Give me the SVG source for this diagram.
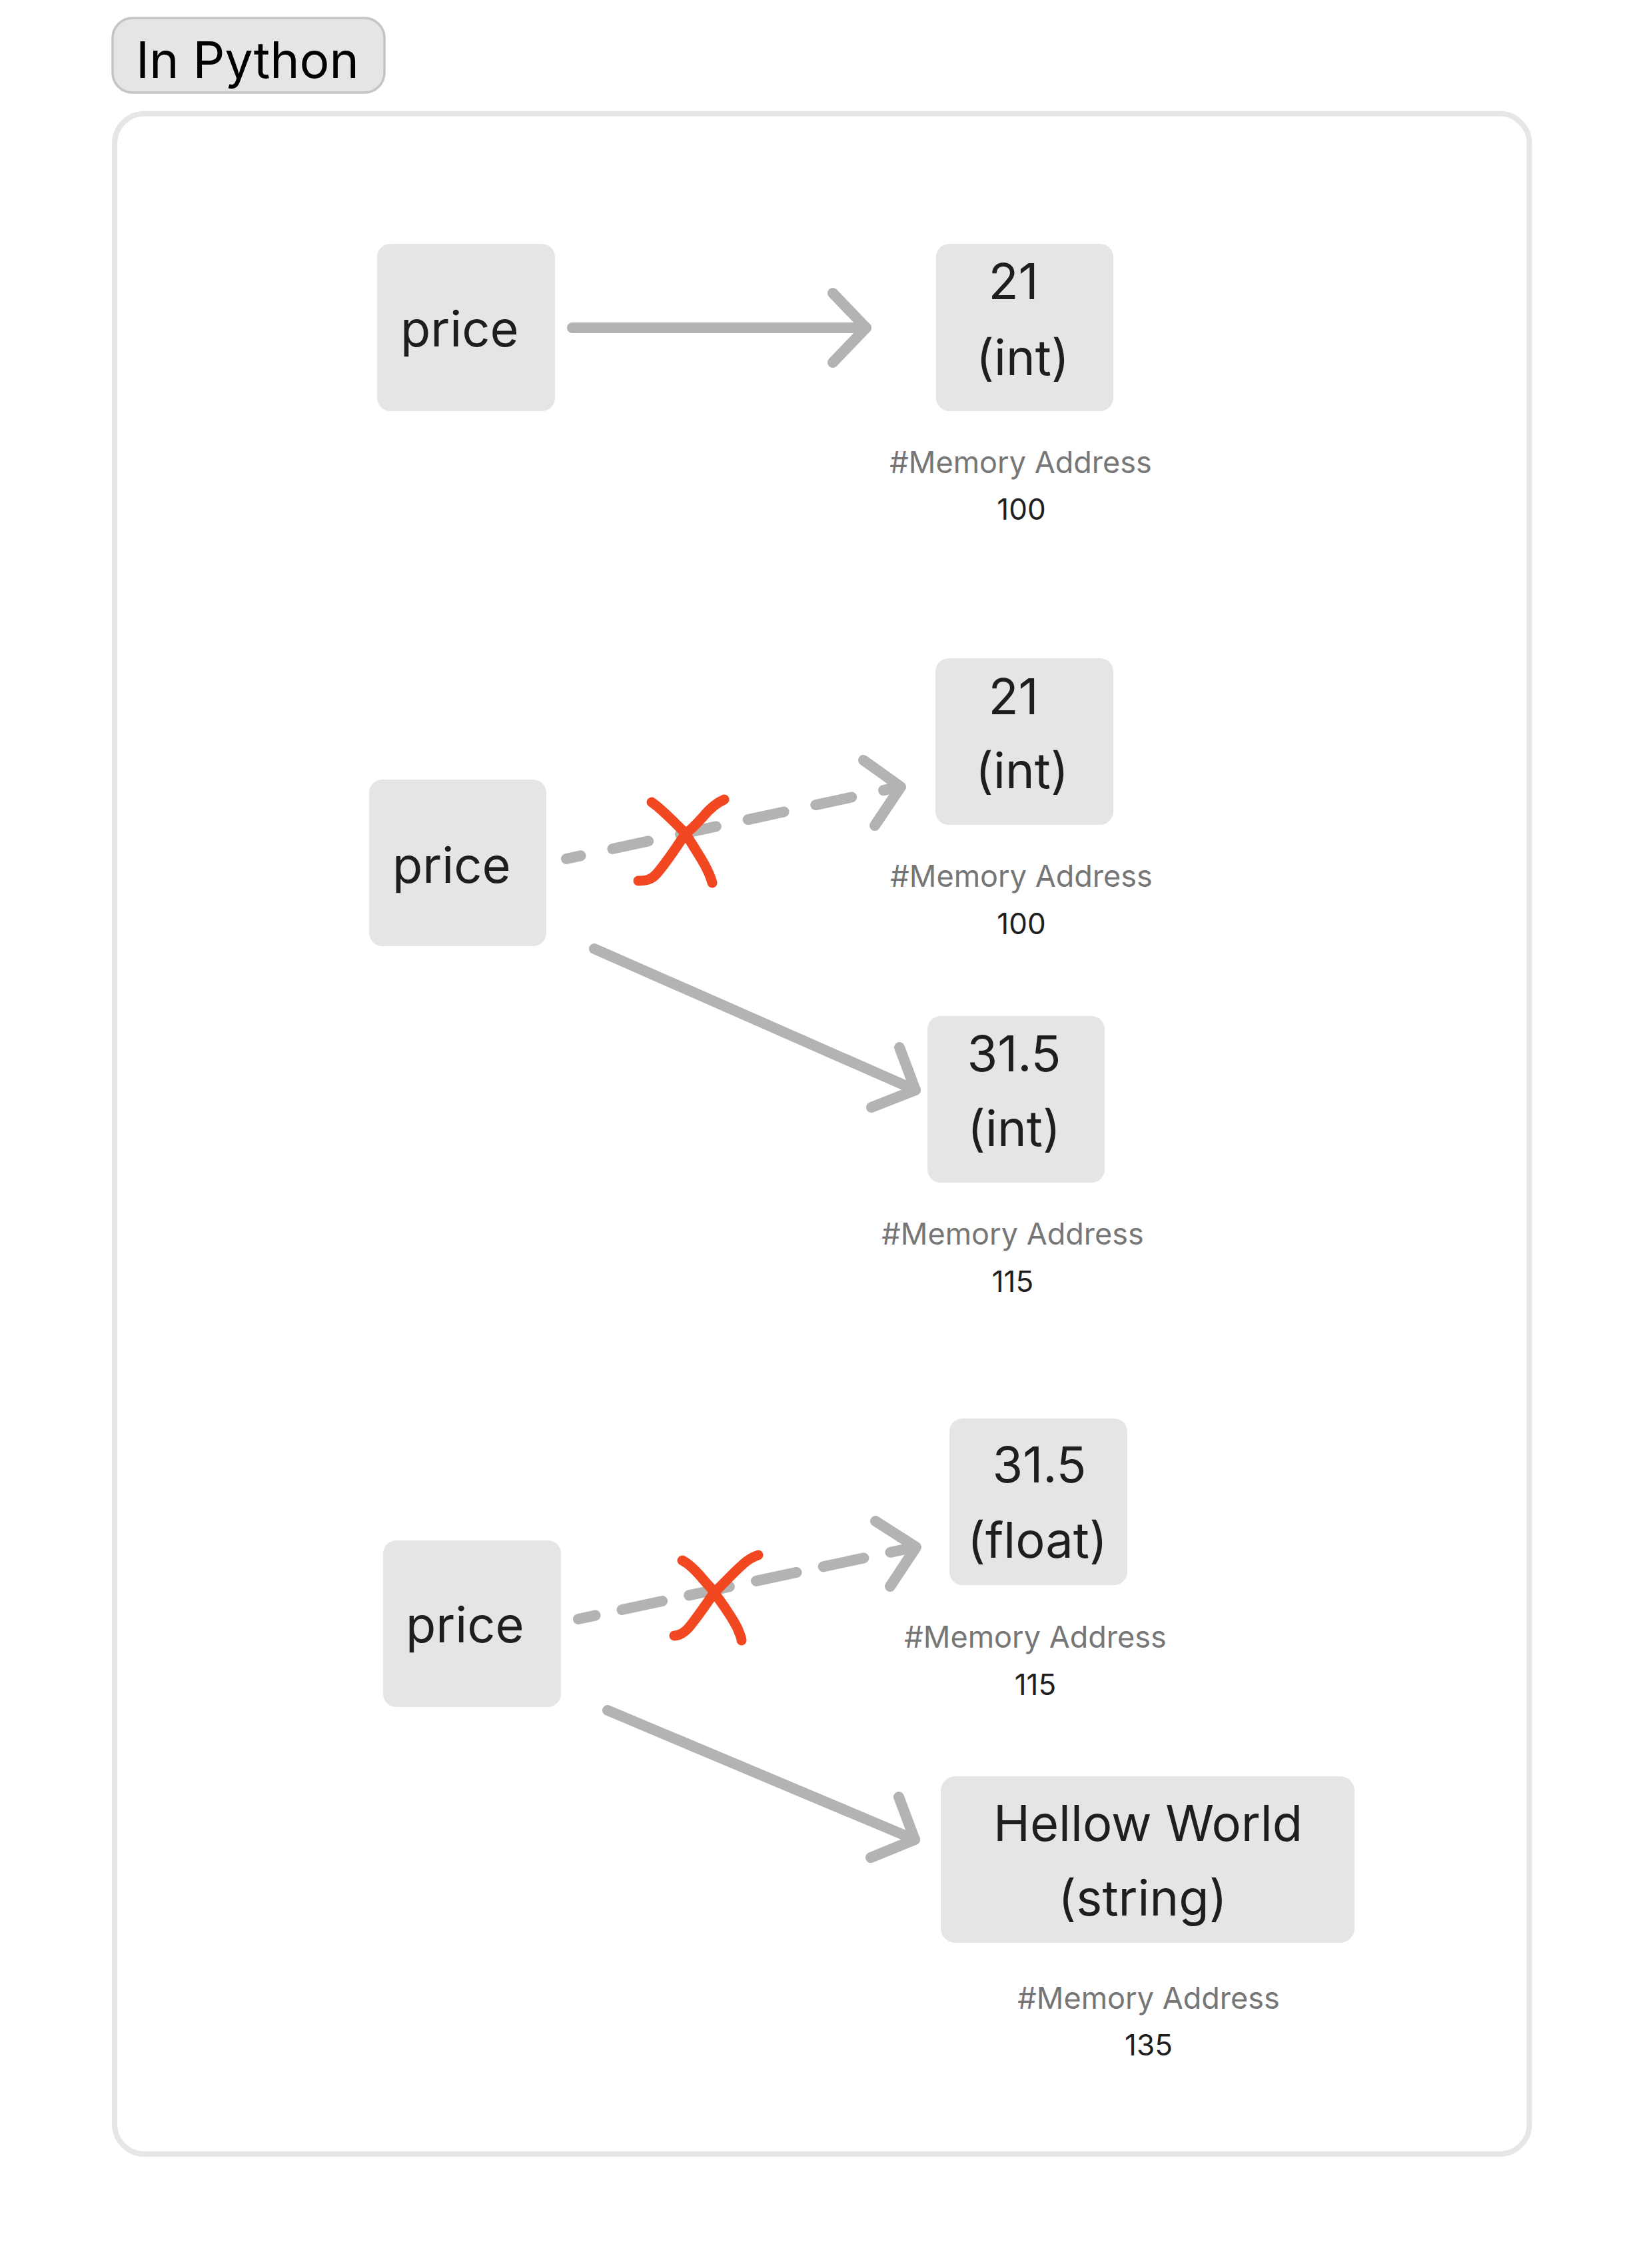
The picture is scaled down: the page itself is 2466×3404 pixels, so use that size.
<svg xmlns="http://www.w3.org/2000/svg" width="2466" height="3404" viewBox="0 0 2466 3404">
  <style>
    text { font-family: Inter, "Liberation Sans", sans-serif; }
    .box { fill: #e5e5e5; }
    .main { font-size: 74px; fill: #1e1e1e; }
    .mid { text-anchor: middle; }
    .addr { font-size: 45px; fill: #767676; text-anchor: middle; }
    .num { font-size: 44px; fill: #1e1e1e; text-anchor: middle; }
    .conn { fill: none; stroke: #b3b3b3; stroke-width: 16; stroke-linecap: round; stroke-linejoin: round; }
    .cross { fill: none; stroke: #f24822; stroke-width: 15; stroke-linecap: round; stroke-linejoin: round; }
  </style>
  <rect width="2466" height="3404" fill="#ffffff"/>

  <g id="title">
    <rect x="169" y="27" width="408" height="112" rx="30" fill="#e5e5e5" stroke="#c4c4c4" stroke-width="3.5"/>
    <text x="204" y="117" font-size="75" fill="#000000">In Python</text>
  </g>

  <g id="frame">
    <rect x="172" y="170.5" width="2123.5" height="3062.5" rx="45" fill="none" stroke="#e6e6e6" stroke-width="8"/>
  </g>

  <g id="price-1">
    <rect class="box" x="566" y="366" width="267" height="251" rx="20"/>
    <text class="main" x="601" y="520">price</text>
  </g>
  <g id="value-21-a">
    <rect class="box" x="1405" y="366" width="266" height="251" rx="20"/>
    <text class="main mid" x="1521" y="449">21</text>
    <text class="main mid" x="1535" y="563">(int)</text>
  </g>
  <g id="addr-100-a">
    <text class="addr" x="1532" y="710">#Memory Address</text>
    <text class="num" x="1533" y="780">100</text>
  </g>

  <g id="price-2">
    <rect class="box" x="554" y="1170" width="266" height="250" rx="20"/>
    <text class="main" x="589" y="1325">price</text>
  </g>
  <g id="value-21-b">
    <rect class="box" x="1404" y="988" width="267" height="250" rx="20"/>
    <text class="main mid" x="1521" y="1072">21</text>
    <text class="main mid" x="1534" y="1183">(int)</text>
  </g>
  <g id="addr-100-b">
    <text class="addr" x="1533" y="1331">#Memory Address</text>
    <text class="num" x="1533" y="1402">100</text>
  </g>
  <g id="value-31-5-int">
    <rect class="box" x="1392" y="1525" width="266" height="250" rx="20"/>
    <text class="main mid" x="1522" y="1608">31.5</text>
    <text class="main mid" x="1522" y="1720">(int)</text>
  </g>
  <g id="addr-115-a">
    <text class="addr" x="1520" y="1868">#Memory Address</text>
    <text class="num" x="1520" y="1939">115</text>
  </g>

  <g id="price-3">
    <rect class="box" x="575" y="2312" width="267" height="250" rx="20"/>
    <text class="main" x="609" y="2465">price</text>
  </g>
  <g id="value-31-5-float">
    <rect class="box" x="1425" y="2129" width="267" height="250" rx="20"/>
    <text class="main mid" x="1560" y="2225">31.5</text>
    <text class="main mid" x="1557" y="2338">(float)</text>
  </g>
  <g id="addr-115-b">
    <text class="addr" x="1554" y="2473">#Memory Address</text>
    <text class="num" x="1554" y="2544">115</text>
  </g>
  <g id="value-hellow-world">
    <rect class="box" x="1412" y="2666" width="621" height="250" rx="22"/>
    <text class="main mid" x="1723" y="2763">Hellow World</text>
    <text class="main mid" x="1715" y="2875">(string)</text>
  </g>
  <g id="addr-135">
    <text class="addr" x="1724" y="3015">#Memory Address</text>
    <text class="num" x="1724" y="3085">135</text>
  </g>

  <g id="connectors">
    <!-- price-1 to 21 -->
    <path class="conn" d="M859 492 L1300 492"/>
    <path class="conn" d="M1250 440 L1300 492 L1250 544"/>

    <!-- price-2 to 21 (dashed, crossed out) -->
    <path class="conn" d="M850 1289 L1350 1181" stroke-dasharray="55 49" stroke-dashoffset="33"/>
    <path class="conn" d="M1296 1141 L1352 1181 L1313 1239"/>

    <!-- price-2 to 31.5 int -->
    <path class="conn" d="M892 1424 L1374 1636"/>
    <path class="conn" d="M1350 1572 L1374 1636 L1308 1662"/>

    <!-- price-3 to 31.5 float (dashed, crossed out) -->
    <path class="conn" d="M868 2430 L1373 2322" stroke-dasharray="62 41" stroke-dashoffset="36"/>
    <path class="conn" d="M1314 2283 L1375 2322 L1336 2381"/>

    <!-- price-3 to Hellow World -->
    <path class="conn" d="M912 2567 L1373 2761"/>
    <path class="conn" d="M1349 2697 L1373 2761 L1307 2788"/>
  </g>

  <g id="cross-marks">
    <path class="cross" d="M978 1204 C992 1213 1010 1232 1029 1251 C1045 1278 1062 1300 1069 1325"/>
    <path class="cross" d="M1087 1200 C1080 1203 1070 1208 1055 1226 C1045 1237 1038 1245 1029 1251 C1015 1272 1000 1295 985 1312 C978 1320 970 1322 958 1322"/>
    <path class="cross" d="M1024 2342 C1034 2347 1045 2358 1055 2370 C1062 2378 1068 2384 1072 2390 C1082 2405 1096 2422 1107 2444 C1110 2452 1113 2458 1113 2462"/>
    <path class="cross" d="M1138 2334 C1132 2336 1125 2339 1116 2347 C1100 2361 1085 2378 1072 2390 C1062 2405 1050 2422 1040 2435 C1030 2449 1021 2455 1012 2455"/>
  </g>
</svg>
